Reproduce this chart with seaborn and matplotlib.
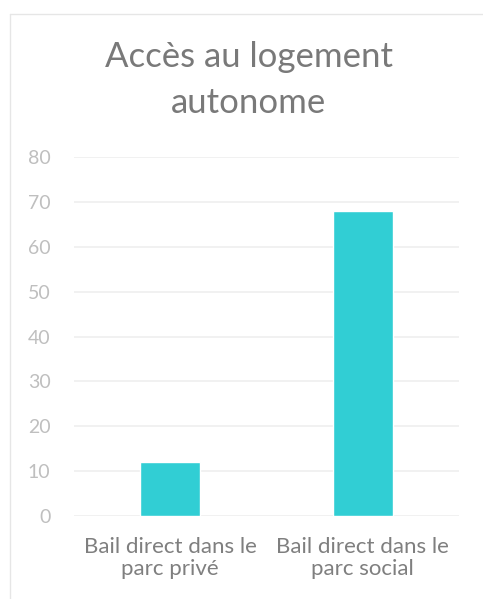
import matplotlib.pyplot as plt
import matplotlib.lines as mlines
import pandas as pd
import seaborn as sns

# données
categories = ["Bail direct dans le\nparc privé", "Bail direct dans le\nparc social"]
valeurs = [12, 68]
yticks = [0, 10, 20, 30, 40, 50, 60, 70, 80]

df = pd.DataFrame({"categorie": categories, "valeur": valeurs})

W, H = 483, 599
sns.set_theme(style="white")
plt.rcParams["font.family"] = ["Lato", "DejaVu Sans"]

fig = plt.figure(figsize=(W / 100, H / 100), dpi=100, facecolor="white")
ax = fig.add_axes([74 / W, 1 - 516 / H, (459 - 74) / W, (516 - 157) / H])

sns.barplot(data=df, x="categorie", y="valeur", color="#31CED4",
            saturation=1, width=0.31, ax=ax, zorder=3)

ax.set_ylim(0, 80)
ax.set_yticks(yticks)
ax.set_xlim(-0.5, 1.5)
ax.grid(axis="y", color="#EFEFEF", lw=1.2, zorder=0)
ax.set_axisbelow(True)
for s in ax.spines.values():
    s.set_visible(False)
ax.tick_params(axis="y", length=0, labelsize=14, labelcolor="#BFBFBF", pad=17)
ax.tick_params(axis="x", length=0, labelsize=16, labelcolor="#7F7F7F", pad=15)
for lab in ax.get_xticklabels():
    lab.set_linespacing(1.15)
ax.set_xlabel("")
ax.set_ylabel("")

# titre
fig.text(249 / W, 1 - 41 / H, "Accès au logement\nautonome", ha="center", va="top",
         fontsize=25, color="#797979", linespacing=1.55)

# cadre du graphique
fig.add_artist(mlines.Line2D([10 / W, 10 / W], [0, 1 - 14 / H], color="#E6E6E6", lw=1))
fig.add_artist(mlines.Line2D([10 / W, 1], [1 - 14 / H, 1 - 14 / H], color="#E6E6E6", lw=1))

fig.savefig("out.png", dpi=100, facecolor="white")
